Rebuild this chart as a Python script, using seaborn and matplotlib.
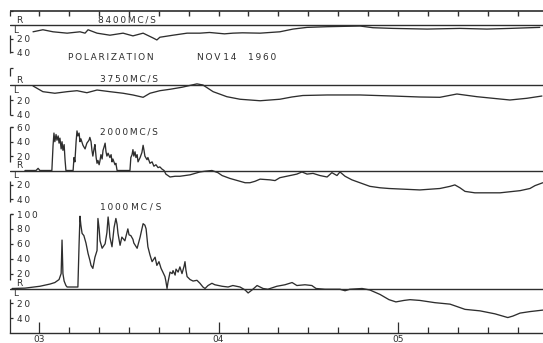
import matplotlib
matplotlib.use("Agg")
import matplotlib.pyplot as plt
import pandas as pd
import seaborn as sns

# Degree of circular polarization (%) of the 14 Nov 1960 burst,
# right-handed positive, left-handed negative, against minutes after 03:00 UT.
t_8400 = [-2.0, 1.3, 4.7, 9.4, 13.7, 15.4, 16.4, 19.4, 23.7, 28.1, 31.4, 34.8,
          38.1, 39.4, 40.4, 44.8, 49.5, 53.8, 57.0, 59.5, 62.0, 64.8, 68.0,
          73.9, 80.5, 84.9, 89.6, 96.3, 107.3, 111.6, 118.3, 129.7, 140.7,
          149.7, 157.4, 167.4]
pol_8400 = [-10, -7, -10, -12, -10, -12, -7, -12, -15, -12, -16, -12,
            -19, -22, -18, -15, -12, -12, -11, -12, -13, -12, -11.5,
            -12, -10, -6, -3.5, -2.5, -1.5, -4, -5, -6, -5,
            -6, -5, -3.5]

t_3750 = [-2.0, 1.3, 5.3, 9.4, 12.7, 16.0, 19.4, 23.7, 28.1, 31.4, 34.8, 37.1,
          40.4, 43.8, 47.8, 51.1, 52.8, 54.8, 58.2, 62.8, 67.2, 73.9, 80.5,
          84.5, 88.2, 96.3, 107.3, 118.3, 127.3, 134.0, 139.7, 146.4, 157.4,
          163.1, 168.1]
pol_3750 = [-1.3, -8.9, -11, -8.9, -7.6, -10.3, -6.7, -8.9, -11, -13.3, -16.4, -11,
            -7.6, -5.7, -3, 0, 1.5, 0, -8.9, -15.6, -19, -21, -19,
            -16, -14, -13.3, -13.3, -14.7, -16, -16.4, -12, -15.6, -20,
            -17.7, -14.7]

t_2000 = [-4.7, -1.0, -0.3, 0.3, 4.3, 4.7, 5.0, 5.3, 5.7, 6.0, 6.4, 6.7, 7.0,
          7.4, 7.7, 8.0, 8.4, 8.7, 9.0, 11.4, 11.7, 12.0, 12.4, 12.7, 13.0,
          13.4, 13.7, 14.0, 14.7, 15.4, 16.0, 16.7, 17.0, 17.4, 17.7, 18.0,
          18.4, 18.7, 19.1, 19.4, 19.7, 20.1, 20.4, 20.7, 21.1, 21.4, 21.7,
          22.1, 22.4, 22.7, 23.1, 23.7, 24.1, 24.4, 24.7, 25.4, 25.7, 26.1,
          30.4, 30.7, 31.1, 31.4, 31.7, 32.1, 32.4, 32.8, 33.1, 33.8, 34.4,
          34.8, 35.1, 35.4, 36.1, 36.4, 37.1, 37.8, 38.4, 39.1, 39.8, 40.4,
          41.1, 41.8, 42.4, 43.8, 45.5, 47.1, 48.8, 50.5, 52.1, 53.8, 55.5,
          57.8, 59.8, 61.2, 63.8, 67.2, 68.9, 70.5, 72.2, 73.9, 77.2, 78.9,
          80.5, 83.9, 86.2, 87.9, 89.6, 91.6, 93.9, 96.3, 97.9, 99.6, 100.6,
          102.3, 104.6, 107.3, 110.6, 114.0, 117.0, 122.0, 127.3, 134.0,
          137.4, 139.0, 140.7, 142.4, 145.7, 154.1, 160.8, 164.1, 165.8, 168.4]
pol_2000 = [0, 0, 3, 0, 0, 35, 52, 40, 50, 42, 48, 38, 45,
            30, 40, 28, 36, 15, 0, 0, 18, 12, 40, 55, 48,
            52, 40, 44, 35, 30, 38, 42, 46, 40, 28, 20,
            30, 36, 18, 10, 14, 8, 14, 22, 16, 28, 32,
            38, 26, 20, 24, 18, 22, 12, 16, 8, 10, 0,
            0, 18, 22, 29, 20, 26, 18, 22, 12, 18, 25,
            35, 28, 20, 15, 18, 10, 12, 6, 8, 4, 5,
            2, 0, -5, -9, -8, -8, -7, -6, -4, -2, -1,
            0, -3, -7, -11, -15, -17, -17, -15, -12, -13, -14,
            -10, -7, -5, -2, -5, -4, -7, -9, -3, -7, -2,
            -8, -13, -17, -22, -24, -25, -26, -27, -25,
            -22, -20, -24, -29, -31, -31, -28, -25, -21, -17]

t_1000 = [-9.0, -4.7, 0.3, 3.7, 5.3, 6.7, 7.4, 7.7, 8.0, 8.4, 9.0, 9.4, 13.0,
          13.4, 13.7, 14.0, 14.4, 15.0, 15.7, 16.4, 17.0, 17.4, 18.0, 18.7,
          19.4, 19.7, 20.1, 20.4, 21.1, 22.1, 22.7, 23.1, 23.4, 23.7, 24.4,
          25.1, 25.7, 26.1, 26.4, 27.1, 27.7, 28.7, 29.7, 30.1, 30.7, 31.4,
          31.7, 32.8, 33.8, 34.4, 34.8, 35.4, 35.8, 36.4, 37.1, 37.8, 38.8,
          39.4, 40.1, 40.8, 41.4, 42.1, 42.4, 42.8, 43.1, 43.8, 44.5, 44.8,
          45.5, 45.8, 46.5, 47.1, 47.8, 48.5, 48.8, 49.1, 49.5, 50.5, 51.5,
          52.8, 53.8, 54.8, 55.5, 56.5, 57.8, 58.8, 61.2, 63.2, 64.8, 67.2,
          68.9, 69.9, 71.2, 72.9, 74.9, 76.5, 79.5, 82.2, 84.6, 86.2, 88.9,
          91.2, 92.6, 95.6, 100.6, 102.3, 103.9, 108.0, 110.6, 114.0, 117.0,
          119.3, 122.0, 124.0, 127.3, 132.3, 137.4, 142.4, 147.4, 152.4,
          156.7, 158.4, 160.8, 164.1, 168.4]
pol_1000 = [0, 0.5, 3, 6, 8, 12, 20, 65, 20, 10, 4, 2, 2,
            60, 97, 85, 74, 71, 61, 47, 38, 31, 27, 42,
            51, 94, 80, 64, 54, 60, 75, 96, 85, 69, 56,
            82, 94, 86, 74, 58, 69, 64, 80, 72, 71, 66,
            61, 54, 69, 80, 87, 85, 80, 56, 45, 36, 42,
            31, 36, 27, 22, 16, 10, 0, 8, 22, 20, 24,
            18, 26, 22, 29, 20, 30, 36, 25, 16, 12, 10,
            11, 7, 2, 0, 4, 7, 5, 3, 2, 4, 2,
            -2, -6, -2, 4, 0, -1, 3, 5, 8, 4, 5,
            4, 0, -1, -1, -3, -1, 0, -2, -8, -15,
            -18, -16, -15, -16, -19, -21, -28, -30, -34,
            -39, -37, -33, -31, -29]

hour_labels = ["03", "04", "05"]

sns.set_theme(style="white")
plt.rcParams["font.family"] = ["DejaVu Sans"]

W, H = 543, 343
X0 = 10                       # left edge of the record, px
PX_PER_MIN = 179.5 / 60       # chart speed
T_ZERO_PX = 39                # 03:00 UT
T0 = (X0 - T_ZERO_PX) / PX_PER_MIN
T1 = (W - T_ZERO_PX) / PX_PER_MIN
INK = "#2e2e2e"
FS = 6.5
LW = 0.95
HEAD = 6                      # spare room above each scale bar, px


def spaced(s):
    return "\u2009".join(s)


fig = plt.figure(figsize=(W / 100, H / 100), dpi=100, facecolor="white")

# name, times, values, scale-bar top px, bottom px, zero-line px, px per %, ticks
panels = [
    ("8400MC/S", t_8400, pol_8400, 11, 53, 25, 0.68, [-20, -40]),
    ("3750MC/S", t_3750, pol_3750, 68, 115, 85, 0.75, [-20, -40]),
    ("2000MC/S", t_2000, pol_2000, 127, 202, 170.5, 0.72, [60, 40, 20, -20, -40]),
    ("1000MC/S", t_1000, pol_1000, 214, 333, 288.5, 0.745,
     [100, 80, 60, 40, 20, -20, -40]),
]
label_pos = {"8400MC/S": (98, 20), "3750MC/S": (100, 79.5),
             "2000MC/S": (100, 132), "1000MC/S": (100, 206.5)}
ten_min = list(range(0, 170, 10))

axes = []
for name, t, p, top, bottom, zero, scale, ticks in panels:
    ax_top = top - HEAD
    ax = fig.add_axes([X0 / W, 1 - bottom / H, (W - X0) / W,
                       (bottom - ax_top) / H])
    ax.set_facecolor("none")
    bar_top = (zero - top) / scale
    ymax = (zero - ax_top) / scale
    ymin = -(bottom - zero) / scale
    ax.set_xlim(T0, T1)
    ax.set_ylim(ymin, ymax)

    df = pd.DataFrame({"minutes": t, "polarization": p})
    sns.lineplot(data=df, x="minutes", y="polarization", ax=ax, color=INK,
                 linewidth=LW, estimator=None, sort=False)
    ax.axhline(0, color=INK, linewidth=1.0)

    for s in ax.spines.values():
        s.set_visible(False)
    ax.set_xlabel("")
    ax.set_ylabel("")
    ax.set_xticks([])

    ax.set_yticks(ticks)
    ax.set_yticklabels([spaced(str(abs(v))) for v in ticks], ha="left",
                       fontsize=FS, color=INK)
    ax.tick_params(axis="y", left=True, direction="in", length=2.5,
                   width=0.9, color=INK, pad=-5)

    # bracket-style scale bar on the left edge
    ax.vlines(T0, ymin, -10 / scale, color=INK, linewidth=0.9, clip_on=False)
    ax.vlines(T0, 9 / scale, bar_top, color=INK, linewidth=0.9, clip_on=False)
    ax.hlines(bar_top, T0, T0 + 1.0, color=INK, linewidth=0.9, clip_on=False)

    ax.text(0.011, 4.5 / scale, "R", transform=ax.get_yaxis_transform(),
            fontsize=FS, color=INK, va="center", ha="left")
    ax.text(0.005, -5.5 / scale, "L", transform=ax.get_yaxis_transform(),
            fontsize=FS, color=INK, va="center", ha="left")

    lx, ly = label_pos[name]
    if name == "1000MC/S":
        txt = spaced("1000") + " " + spaced("MC") + " / " + "S"
    else:
        txt = spaced(name)
    fig.text(lx / W, 1 - ly / H, txt, fontsize=FS, color=INK, va="center")
    axes.append((ax, bar_top, scale))

# time marks hanging from the top edge of the record
top_ax, top_line, top_scale = axes[0]
top_ax.axhline(top_line, color=INK, linewidth=1.2, zorder=5)
top_ax.vlines(ten_min, top_line - 5 / top_scale, top_line, color=INK,
              linewidth=1.0, zorder=5)

# time axis at the bottom
bot_ax = axes[-1][0]
bot_ax.spines["bottom"].set_visible(True)
bot_ax.spines["bottom"].set_color(INK)
bot_ax.spines["bottom"].set_linewidth(1.0)
bot_ax.set_xticks([0, 60, 120])
bot_ax.set_xticklabels(hour_labels, fontsize=FS, color=INK)
bot_ax.set_xticks([m for m in ten_min[1:] if m % 60], minor=True)
bot_ax.tick_params(axis="x", which="major", bottom=True, direction="in",
                   length=8, width=0.9, color=INK, pad=1.5)
bot_ax.tick_params(axis="x", which="minor", bottom=True, direction="in",
                   length=4.3, width=0.9, color=INK)

fig.text(68 / W, 1 - 58 / H, spaced("POLARIZATION"), fontsize=FS, color=INK,
         va="center")
fig.text(197 / W, 1 - 58 / H, spaced("NOV") + " " + spaced("14"), fontsize=FS,
         color=INK, va="center")
fig.text(248 / W, 1 - 58 / H, spaced("1960"), fontsize=FS, color=INK,
         va="center")

fig.savefig("out.png", dpi=100, facecolor="white")
